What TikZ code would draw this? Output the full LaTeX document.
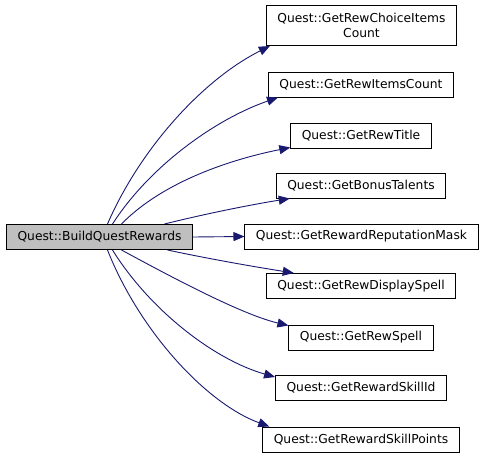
\documentclass[tikz,border=0pt]{standalone}
\usepackage{fontspec}
\setmainfont{DejaVu Sans}
\usetikzlibrary{arrows.meta}
\definecolor{edgeblue}{RGB}{25,25,112}
\definecolor{nodegray}{RGB}{191,191,191}
\begin{document}
\begin{tikzpicture}[x=1pt,y=-1pt,
    fn/.style={draw=black, line width=1pt, minimum height=25pt, inner xsep=11pt, inner ysep=2pt,
      font=\fontsize{12.3}{14.5}\selectfont, align=center},
    call/.style={draw=edgeblue, line width=0.9pt, -{Triangle[length=11pt,width=9pt]}}]
        % \draw[help lines, gray!50, very thin] (0,0) grid[step=50] (485,458);
        \useasboundingbox (0,0) rectangle (485,458);

        % caller
        \node[fn, fill=nodegray] (build) at (99.5,237) {Quest::BuildQuestRewards};

        % callees
        \node[fn, minimum height=40pt] (choice) at (361.5,25.5) {Quest::GetRewChoiceItems\\Count};
        \node[fn] (items) at (361,84.5) {Quest::GetRewItemsCount};
        \node[fn] (title) at (361,135.5) {Quest::GetRewTitle};
        \node[fn] (bonus) at (361,185.5) {Quest::GetBonusTalents};
        \node[fn] (repmask) at (361.5,236.5) {Quest::GetRewardReputationMask};
        \node[fn] (dispspell) at (361,286) {Quest::GetRewDisplaySpell};
        \node[fn] (rewspell) at (361,337.5) {Quest::GetRewSpell};
        \node[fn] (skillid) at (361,388) {Quest::GetRewardSkillId};
        \node[fn] (skillpts) at (361,439.5) {Quest::GetRewardSkillPoints};

        % calls
        \draw[call] ([xshift=8pt]build.north) .. controls +(32,-74) and +(-68,34) .. ([xshift=4pt]choice.south west);
        \draw[call] ([xshift=13pt]build.north) .. controls +(38,-59) and +(-61,21) .. ([xshift=10pt]items.south west);
        \draw[call] ([xshift=22pt]build.north) .. controls +(43,-44) and +(-55,11) .. ([yshift=1pt]title.south west);
        \draw[call] ([xshift=65pt]build.north) .. controls +(40,-10) and +(-38,6) .. ([xshift=14pt]bonus.south west);
        \draw[call] (build.east) -- (repmask.west);
        \draw[call] ([xshift=68pt]build.south) .. controls +(42,9) and +(-38,-6) .. ([xshift=28pt]dispspell.north west);
        \draw[call] ([xshift=22pt]build.south) .. controls +(48,26) and +(-47,-11) .. ([yshift=-1pt]rewspell.north west);
        \draw[call] ([xshift=13pt]build.south) .. controls +(38,61) and +(-60,-17) .. ([yshift=-2pt]skillid.north west);
        \draw[call] ([xshift=8pt]build.south) .. controls +(32,81) and +(-63,-23) .. ([xshift=7pt]skillpts.north west);
      \end{tikzpicture}
\end{document}
